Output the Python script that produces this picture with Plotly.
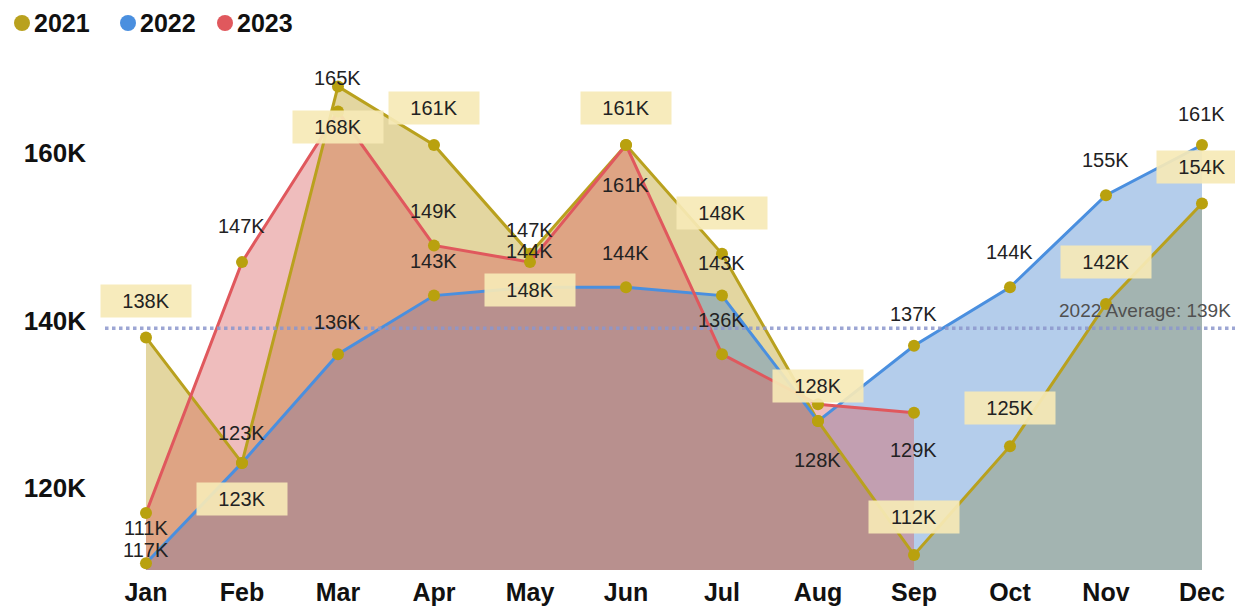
import plotly.graph_objects as go

months = ["Jan", "Feb", "Mar", "Apr", "May", "Jun", "Jul", "Aug", "Sep", "Oct", "Nov", "Dec"]
sales_2021 = [138, 123, 168, 161, 148, 161, 148, 128, 112, 125, 142, 154]
sales_2022 = [111, 123, 136, 143, 144, 144, 143, 128, 137, 144, 155, 161]
sales_2023 = [117, 147, 165, 149, 147, 161, 136, 130, 129, None, None, None]
y_ticks = [120, 140, 160]

# label vertical offsets (px) per point, None = label hidden
shift_2021 = [36, -36, -41, 37, -36, 37, 41, 35, 38, 38, 42, 37]
shift_2022 = [35, 30, 32, 35, 36, 34, 33, -39, 32, 35, 35, 31]
shift_2023 = [-37, 36, 34, 34, 32, -40, 34, None, -37]

C21, C22, C23 = "#B9A11E", "#4A8FDF", "#E0585D"
F21 = "rgba(185,152,18,0.40)"
F22 = "rgba(62,127,204,0.39)"
F23 = "rgba(215,91,89,0.40)"
MARK = "#B9A10E"
FONT = "Liberation Sans, Arial, sans-serif"

W, H = 1235, 605
ML, MR, MT, MB = 97, 3, 32, 43
PW, PH = W - ML - MR, H - MT - MB

def px(fx):
    return (fx - ML) / PW

def py(fy):
    return (H - MB - fy) / PH

x = list(range(12))
series = [("2021", sales_2021, C21, F21), ("2022", sales_2022, C22, F22), ("2023", sales_2023, C23, F23)]

fig = go.Figure()
for name, vals, col, fcol in series:
    fig.add_trace(go.Scatter(x=x[:len(vals)], y=vals, mode="lines", line=dict(width=0, color=col),
                             fill="tozeroy", fillcolor=fcol, showlegend=False, hoverinfo="skip"))
for name, vals, col, fcol in series:
    fig.add_trace(go.Scatter(x=x[:len(vals)], y=vals, mode="lines+markers", name=name,
                             line=dict(width=3, color=col),
                             marker=dict(size=12, color=MARK), showlegend=False))

annotations = []
shapes = []
label_font = dict(family=FONT, size=20, color="#222222")
for vals, shifts, boxed in [(sales_2022, shift_2022, False), (sales_2023, shift_2023, False), (sales_2021, shift_2021, True)]:
    for i, (v, s) in enumerate(zip(vals, shifts)):
        if v is None or s is None:
            continue
        a = dict(x=i, y=v, text=f"{v}K", showarrow=False, yshift=s, font=label_font)
        if boxed:
            a.update(bgcolor="rgba(246,233,182,0.92)", width=88, height=30)
        annotations.append(a)

avg_2022 = sum(sales_2022) / len(sales_2022)
annotations.append(dict(xref="paper", x=0.994, y=avg_2022, text=f"2022 Average: {avg_2022:.0f}K",
                        xanchor="right", yanchor="bottom", yshift=5, showarrow=False,
                        font=dict(family=FONT, size=19, color="#505050")))
shapes.append(dict(type="line", xref="paper", x0=0, x1=1, yref="y", y0=avg_2022, y1=avg_2022,
                   line=dict(color="rgba(140,150,205,0.85)", width=3.5, dash="dot")))

# legend: dot + bold text per series
legend_dot_x = [14, 120, 217]
legend_y = 15
for (name, vals, col, fcol), dx in zip(series, legend_dot_x):
    shapes.append(dict(type="circle", xref="paper", yref="paper",
                       x0=px(dx - 8), x1=px(dx + 8), y0=py(legend_y + 8), y1=py(legend_y - 8),
                       fillcolor=col, line=dict(width=0)))
    annotations.append(dict(xref="paper", yref="paper", x=px(dx + 10), y=py(legend_y),
                            xanchor="left", yanchor="middle", showarrow=False, text=name,
                            font=dict(family=FONT, size=25, color="#111111", weight="bold")))

fig.update_layout(
    width=W, height=H,
    margin=dict(l=ML, r=MR, t=MT, b=MB),
    paper_bgcolor="white", plot_bgcolor="white",
    showlegend=False,
    xaxis=dict(range=[-0.427, 11.396], tickmode="array", tickvals=x, ticktext=months,
               showgrid=False, zeroline=False, showline=False, ticks="", automargin=False,
               ticklabelstandoff=5,
               tickfont=dict(family=FONT, size=25, color="#111111", weight="bold")),
    yaxis=dict(range=[110.2, 173.55], tickmode="array", tickvals=y_ticks, ticktext=[f"{t}K" for t in y_ticks],
               showgrid=False, zeroline=False, showline=False, ticks="", ticklabelstandoff=18, automargin=False,
               tickfont=dict(family=FONT, size=26, color="#111111", weight="bold")),
    shapes=shapes,
    annotations=annotations,
)

fig.write_html("out.html")
